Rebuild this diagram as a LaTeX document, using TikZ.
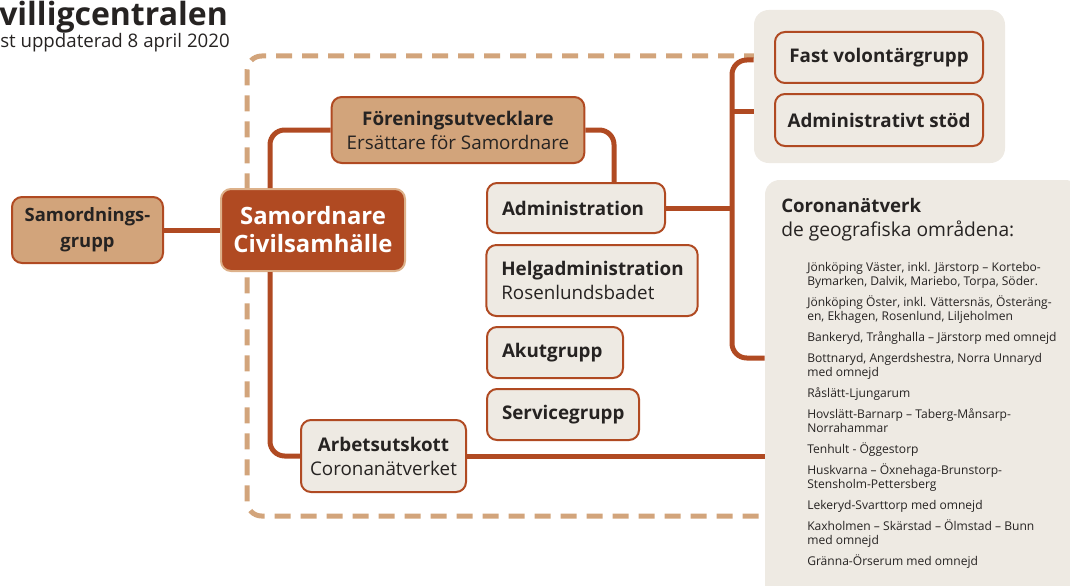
\documentclass[tikz,border=0pt]{standalone}
\usepackage{fontspec}
\setmainfont{Open Sans}
\usetikzlibrary{calc}
\definecolor{rust}{HTML}{B04A22}
\definecolor{tan}{HTML}{D2A47B}
\definecolor{paper}{HTML}{EEEAE3}
\definecolor{ink}{HTML}{262322}
\definecolor{rim}{HTML}{DDB18A}
\newcommand\boxfont{\fontsize{14.1}{18}\selectfont}
\begin{document}
\begin{tikzpicture}[x=0.75pt,y=-0.75pt,
  conn/.style={draw=rust, line width=3.75pt, rounded corners=11pt},
  frame/.style={draw=tan, line width=3.75pt, dash pattern=on 12pt off 7.5pt, rounded corners=11pt},
  box/.style={draw=rust, line width=1.5pt, rounded corners=7.5pt, fill=paper, text=ink,
    inner xsep=11.25pt, inner ysep=0pt, align=center, font=\boxfont},
  boldbox/.style={box, font=\boxfont\bfseries},
  tanbox/.style={box, fill=tan},
  leftbox/.style={box, align=left},
  panel/.style={fill=paper, rounded corners=11pt, inner sep=0pt},
  plain/.style={inner sep=0pt, text=ink}]
\useasboundingbox (0,0) rectangle (1070,585);

% heading
\node[plain, anchor=base west, font=\fontsize{24}{29}\selectfont\bfseries] (title) at (-1,26) {villigcentralen};
\node[plain, anchor=base west, font=\fontsize{14}{16}\selectfont] (subtitle) at (0,48) {st uppdaterad 8 april 2020};

% dashed outline around the organisation
\draw[frame] (760,56) -- (247,56) -- (247,516) -- (770,516);

% right-hand panels
\node[panel, minimum width=188.25pt, minimum height=114.75pt] (p1) at (879.5,86.5) {};
\node[panel, minimum width=236.25pt, minimum height=315pt] (cn) at (922.5,390) {};

% boxes
\node[tanbox, inner xsep=4pt, minimum width=113.25pt, minimum height=49.5pt, font=\fontsize{13.8}{19.5}\selectfont\bfseries] (sg) at (87.5,230) {Samordnings-\\grupp};
\node[box, inner xsep=4pt, fill=rust, draw=rim, text=white, minimum width=138pt, minimum height=61.5pt, font=\fontsize{17.9}{21}\selectfont\bfseries] (sc) at (313,230) {Samordnare\\Civilsamhälle};
\node[tanbox, minimum width=189pt, minimum height=49.5pt] (fu) at (458,130) {\textbf{Föreningsutvecklare}\\Ersättare för Samordnare};
\node[boldbox, align=left, text width=111pt, minimum height=37.5pt] (adm) at (576,208) {Administration};
\node[leftbox, text width=136pt, minimum height=53.25pt] (hg) at (592,280.5) {\textbf{Helgadministration}\\Rosenlundsbadet};
\node[boldbox, align=left, text width=79.5pt, minimum height=38.25pt] (ak) at (555,352.5) {Akutgrupp};
\node[boldbox, align=left, text width=91.5pt, minimum height=38.25pt] (sv) at (563,414.5) {Servicegrupp};
\node[box, inner xsep=5pt, minimum width=123.75pt, minimum height=54pt] (au) at (383.5,456) {\textbf{Arbetsutskott}\\Coronanätverket};
\node[boldbox, inner xsep=5pt, minimum width=156pt, minimum height=38.25pt] (fv) at (879,57.5) {Fast volontärgrupp};
\node[boldbox, inner xsep=5pt, minimum width=156pt, minimum height=39pt] (as) at (879,120) {Administrativt stöd};

% Coronanätverk text
\node[plain, anchor=base west, font=\fontsize{14}{18}\selectfont\bfseries] (cnh) at (781,212) {Coronanätverk};
\node[plain, anchor=base west, font=\fontsize{14.4}{18}\selectfont] (cns) at (781,236) {de geografiska områdena:};
\node[plain, anchor=north west, align=left, font=\fontsize{9.05}{10.5}\selectfont] (areas) at (807,262) {%
Jönköping Väster, inkl. Järstorp – Kortebo-\\Bymarken, Dalvik, Mariebo, Torpa, Söder.\\[5.25pt]
Jönköping Öster, inkl. Vättersnäs, Österäng-\\en, Ekhagen, Rosenlund, Liljeholmen\\[5.25pt]
Bankeryd, Trånghalla – Järstorp med omnejd\\[5.25pt]
Bottnaryd, Angerdshestra, Norra Unnaryd\\med omnejd\\[5.25pt]
Råslätt-Ljungarum\\[5.25pt]
Hovslätt-Barnarp – Taberg-Månsarp-\\Norrahammar\\[5.25pt]
Tenhult - Öggestorp\\[5.25pt]
Huskvarna – Öxnehaga-Brunstorp-\\Stensholm-Pettersberg\\[5.25pt]
Lekeryd-Svarttorp med omnejd\\[5.25pt]
Kaxholmen – Skärstad – Ölmstad – Bunn\\med omnejd\\[5.25pt]
Gränna-Örserum med omnejd};

% connectors
\coordinate (tTop) at (732,60);
\coordinate (tMid) at (732,111);
\coordinate (tBot) at (732,358);
\draw[conn] (sg.east) -- (sc.west);
\draw[conn] ($(sc.north west)+(50,0)$) |- (fu.west);
\draw[conn] (fu.east) -| ($(adm.north west)+(128,0)$);
\draw[conn] ($(sc.south west)+(50,0)$) |- (au.west);
\draw[conn] (au.east) -- (au.east -| cn.west);
\draw[conn] (tTop -| p1.west) -- (tTop) -- (tBot) -- (tBot -| cn.west);
\draw[conn] (tMid) -- (tMid -| p1.west);
\draw[conn] (adm.east) -- (adm.east -| tTop);
\end{tikzpicture}
\end{document}
